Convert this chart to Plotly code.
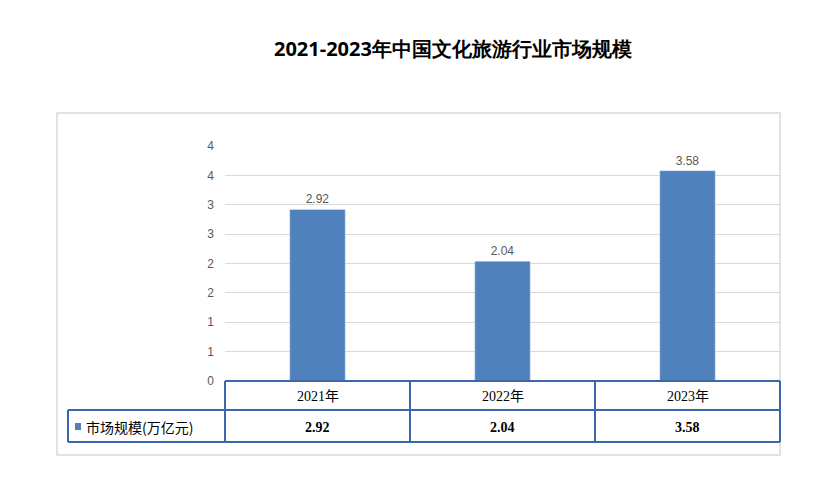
import plotly.graph_objects as go

years = ["2021年", "2022年", "2023年"]
market = [2.92, 2.04, 3.58]
tick_vals = [0, 0.5, 1, 1.5, 2, 2.5, 3, 3.5, 4]
tick_text = ["0", "1", "1", "2", "2", "3", "3", "4", "4"]
series_name = "市场规模(万亿元)"

W, H = 839, 494
OFF = 8  # page body margin
L, R, T, B = 225 - OFF, 780 - OFF, 146 - OFF, 381 - OFF


def px(x):
    return (x - OFF - L) / (R - L)


def py(y):
    return (B - (y - OFF)) / (B - T)


fig = go.Figure()
fig.add_trace(go.Bar(
    x=years, y=market, marker_color="#4f81bd",
    text=[f"{v:.2f}" for v in market], textposition="outside",
    textfont=dict(size=12, color="#595959", family="Liberation Sans"),
    cliponaxis=False, showlegend=False,
))

blue = "#3a66b0"
shapes = [
    dict(type="rect", xref="paper", yref="paper", x0=px(57), x1=px(780), y0=py(455), y1=py(113),
         line=dict(color="#d9d9d9", width=1.5), layer="below"),
]
for y0, x0 in [(381, 225), (410, 68), (442, 68)]:
    shapes.append(dict(type="line", xref="paper", yref="paper", x0=px(x0), x1=px(780),
                       y0=py(y0), y1=py(y0), line=dict(color=blue, width=2)))
for x0 in [225, 410, 595, 780]:
    shapes.append(dict(type="line", xref="paper", yref="paper", x0=px(x0), x1=px(x0),
                       y0=py(381), y1=py(442), line=dict(color=blue, width=2)))
shapes.append(dict(type="line", xref="paper", yref="paper", x0=px(68), x1=px(68),
                   y0=py(410), y1=py(442), line=dict(color=blue, width=2)))
shapes.append(dict(type="rect", xref="paper", yref="paper", x0=px(75), x1=px(81),
                   y0=py(430), y1=py(423), fillcolor="#4f81bd", line=dict(width=0)))

mid = dict(xanchor="center", yanchor="middle", showarrow=False)
annotations = [
    dict(text="<b>2021-2023年中国文化旅游行业市场规模</b>", xref="paper", yref="paper",
         x=px(453), y=py(48), font=dict(size=20, color="#000000"), **mid),
    dict(text=series_name, xref="paper", yref="paper", x=px(84), y=py(427), xanchor="left",
         yanchor="middle", showarrow=False,
         font=dict(size=14, color="#000000", family="Noto Sans CJK SC")),
]
for yr, v in zip(years, market):
    annotations.append(dict(text=yr, x=yr, xref="x", yref="paper", y=py(396),
                            font=dict(size=14, color="#000000", family="Liberation Serif, Noto Sans CJK SC"), **mid))
    annotations.append(dict(text=f"<b>{v:.2f}</b>", x=yr, xref="x", yref="paper", y=py(427),
                            font=dict(size=14, color="#000000", family="Liberation Serif"), **mid))

fig.update_layout(
    width=W, height=H, margin=dict(l=L, r=W - R, t=T, b=H - B),
    paper_bgcolor="white", plot_bgcolor="white", bargap=0.7,
    shapes=shapes, annotations=annotations,
    xaxis=dict(showticklabels=False, showline=False, showgrid=False),
    yaxis=dict(range=[0, 4], tickvals=tick_vals, ticktext=tick_text, showgrid=True,
               gridcolor="#d9d9d9", zeroline=False, ticks="", ticklabelstandoff=10,
               tickfont=dict(size=12, color="#595959", family="Liberation Sans")),
)
fig.write_html("out.html")
